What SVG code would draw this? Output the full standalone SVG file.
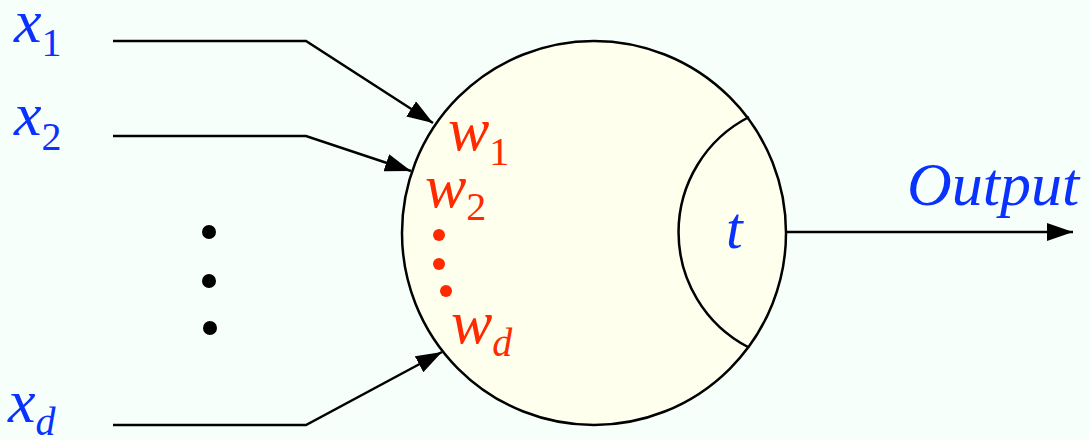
<svg xmlns="http://www.w3.org/2000/svg" width="1089" height="440" viewBox="0 0 1089 440">
  <defs>
    <marker id="arr" markerUnits="userSpaceOnUse" markerWidth="28" markerHeight="18" refX="26" refY="9" orient="auto">
      <path d="M0,0 L26,9 L0,18 z" fill="#000"/>
    </marker>
    <style>
      .math { font-family: 'Liberation Serif', 'Times New Roman', serif; font-style: italic; font-size: 62px; }
      .sub { font-size: 40px; }
      .up { font-style: normal; }
      .blue { fill: #0a32ff; }
      .red { fill: #ff2a00; }
      .wire { fill: none; stroke: #000; stroke-width: 2.5; }
    </style>
  </defs>
  <rect width="1089" height="440" fill="#f7fffa"/>

  <g id="neuron">
    <circle cx="594" cy="233" r="192" fill="#ffffee" stroke="#000" stroke-width="2.5"/>
    <path d="M749,117 A129.5,129.5 0 0 0 748,347" fill="none" stroke="#000" stroke-width="2.5"/>
    <text class="math blue" x="726" y="248" style="font-size:60px">t</text>
  </g>

  <g id="weights">
    <text class="math red" x="448" y="150">w<tspan class="sub up" dy="15">1</tspan></text>
    <text class="math red" x="425" y="207">w<tspan class="sub up" dy="13">2</tspan></text>
    <text class="math red" x="451" y="343">w<tspan class="sub" dy="13">d</tspan></text>
    <circle cx="439" cy="235" r="6" fill="#ff2a00"/>
    <circle cx="439" cy="264" r="6" fill="#ff2a00"/>
    <circle cx="446" cy="291" r="6" fill="#ff2a00"/>
  </g>

  <g id="inputs">
    <text class="math blue" x="14" y="42">x<tspan class="sub up" dy="14">1</tspan></text>
    <text class="math blue" x="14" y="135">x<tspan class="sub up" dy="15">2</tspan></text>
    <text class="math blue" x="8" y="422">x<tspan class="sub" dy="13">d</tspan></text>
    <circle cx="209" cy="232" r="7" fill="#000"/>
    <circle cx="209" cy="281" r="7" fill="#000"/>
    <circle cx="210" cy="328" r="7" fill="#000"/>
  </g>

  <g id="output">
    <text class="math blue" x="907" y="205">Output</text>
  </g>

  <g id="connectors">
    <path class="wire" d="M113,41 L306,41 L433,123" marker-end="url(#arr)"/>
    <path class="wire" d="M113,136 L306,136 L411,171" marker-end="url(#arr)"/>
    <path class="wire" d="M113,425 L306,425 L442,352" marker-end="url(#arr)"/>
    <path class="wire" d="M787,232 L1073,232" marker-end="url(#arr)"/>
  </g>
</svg>
